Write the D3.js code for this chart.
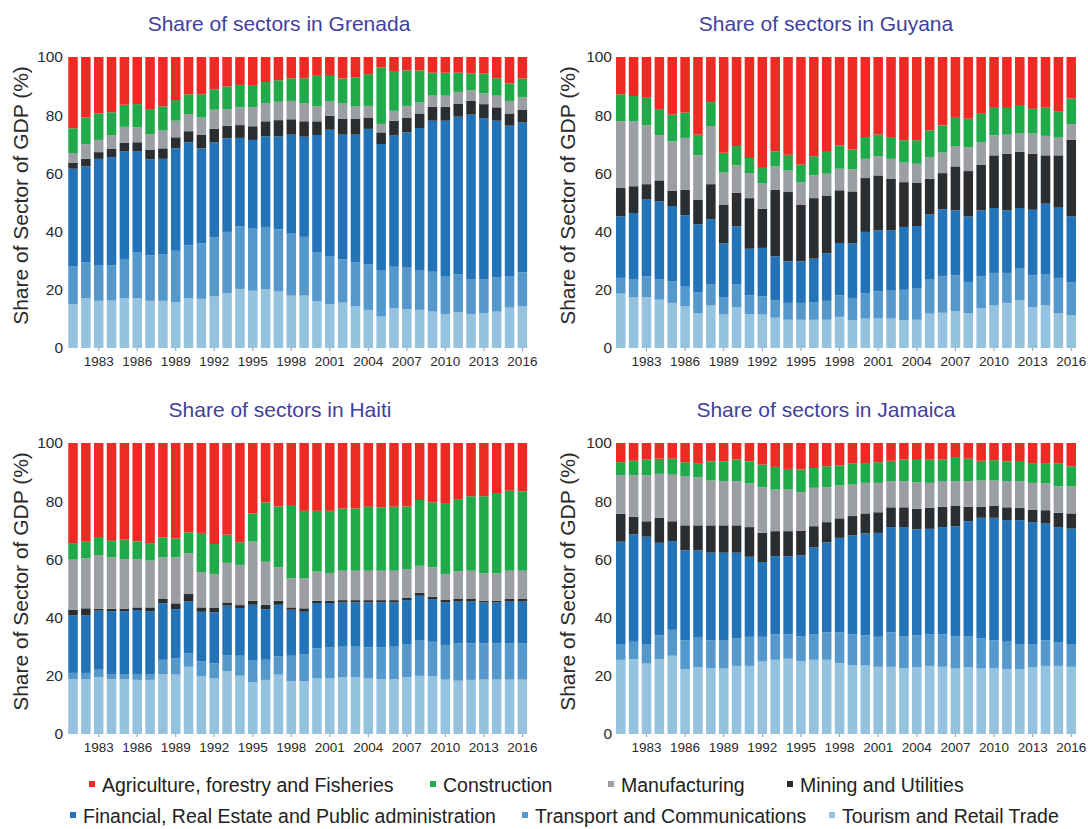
<!DOCTYPE html>
<html>
<head>
<meta charset="utf-8">
<script src="https://cdn.jsdelivr.net/npm/d3@7"></script>
<style>
  html, body { margin: 0; padding: 0; background: #ffffff; }
  svg { display: block; }
  text { font-family: "Liberation Sans", Arial, Helvetica, sans-serif; }
</style>
</head>
<body>
<svg id="chart" width="1088" height="829"></svg>
<script>
// ---------------- DATA ----------------
const years = d3.range(1981, 2017);
const tickYears = [1983, 1986, 1989, 1992, 1995, 1998, 2001, 2004, 2007, 2010, 2013, 2016];
const yTicks = [0, 20, 40, 60, 80, 100];

const sectorKeys = ["tour", "trans", "fin", "min", "man", "con", "agr"];
const sectorNames = {
  agr: "Agriculture, forestry and Fisheries",
  con: "Construction",
  man: "Manufacturing",
  min: "Mining and Utilities",
  fin: "Financial, Real Estate and Public administration",
  trans: "Transport and Communications",
  tour: "Tourism and Retail Trade"
};
const sectorColors = {
  agr: "#ee2a24", con: "#20aa4a", man: "#9b9ea2", min: "#2b2e31",
  fin: "#2373b9", trans: "#5598cc", tour: "#95c2df"
};

// Grenada
const grenadaTourism = [15,17.1,16.2,16.3,17.1,17.1,16.2,16.2,15.7,17.1,16.9,17.7,18.8,20.3,19.7,20.2,19.4,18,18,16,15.1,15.6,14.3,13.1,10.8,13.7,13.3,13.1,12.5,11.7,12.3,11.7,12,12.5,13.9,14.3];
const grenadaTransport = [13,12.3,12.3,12.2,13.5,15.7,15.7,16,17.7,18.2,19,20.3,21.1,21.5,21.3,21.4,21.4,21.3,20.2,16.8,16.3,14.8,15.1,15.7,16,14.2,14.3,13.7,13.7,12.8,13,12,11.7,11.7,10.8,11.7];
const grenadaFinancial = [33.6,33,36.5,37.1,36.9,34.7,32.9,32.8,35.2,35.4,32.7,32.7,32.2,30.4,30.5,31.1,31.9,34,34.4,40.4,43.6,42.9,43.9,46.5,43.3,45.1,46.5,48.8,51.9,53.6,54.2,56.5,55.3,53.9,51.7,51.5];
const grenadaMining = [2,2.6,2.3,2.8,3,3.2,3.4,3.6,3.8,3.8,4.6,4.6,4.3,4.4,4.7,5.2,5.6,5.3,5.3,4.7,4.8,5.4,5.4,3.9,4,5.1,5.1,5,4.8,4.8,4.5,4.7,4.8,4.6,4.2,4.3];
const grenadaManufacturing = [3.4,5,4.2,4.6,5.5,5.1,5.3,6.1,5.7,5.9,6,6.6,5.7,6.1,6.5,6.3,6.3,6.3,6.1,5.1,4.9,5.3,4.3,4,2.9,3.4,4,3.8,3.8,3.8,4,3.7,3.7,4,4.3,4.3];
const grenadaConstruction = [8.5,9.2,9.1,8,7.6,8,8.6,8.3,7.1,6.8,8,7,7.8,7.7,7.4,7.2,7.4,7.8,8.7,10.8,8.8,8.6,9.9,10.9,19.4,13.7,12.2,11,7.9,7.9,6.6,5.7,6.8,6,6,6.5];
const grenadaAgriculture = [24.5,20.8,19.4,19,16.4,16.2,17.9,17,14.8,12.8,12.8,11.1,10.1,9.6,9.9,8.6,8,7.3,7.3,6.2,6.5,7.4,7.1,5.9,3.6,4.8,4.6,4.6,5.4,5.4,5.4,5.7,5.7,7.3,9.1,7.4];

// Guyana
const guyanaTourism = [18.7,17.5,17.5,16.6,15.5,14.3,12,14.6,11.5,14.1,11.6,11.5,10.4,9.7,9.7,9.7,9.7,10.7,9.5,10.1,10.1,10.1,9.5,9.7,11.8,12.1,12.7,12,13.7,14.6,15.5,16.4,14.1,14.6,12,11.2];
const guyanaTransport = [5.4,6,7.1,6.9,7.5,7,7.2,7.2,6,7.8,6.5,6.3,6,5.8,5.8,6.1,6.5,7.4,7.7,8.6,9.4,9.6,10.5,10.9,11.7,12.5,12.3,10.7,10.9,11.2,10.3,10.9,10.9,10.6,12.1,11.3];
const guyanaFinancial = [21.1,22.9,26.4,26.9,25.8,24.3,23.3,22.4,18.4,19.9,16,16.6,15.1,14.3,14.3,14.9,16.4,18,18.7,21.2,20.9,20.8,21.6,21.3,22.4,23.1,22.3,22.5,22.7,22.3,21.5,20.8,22.5,24.4,24.1,22.7];
const guyanaMining = [9.8,9.2,5.3,7.2,5.3,8.8,8.5,12.1,13.4,11.6,17.4,13.5,22.9,23.8,19.5,20.8,19.8,18.1,17.9,18.5,18.9,17.7,15.4,14.8,12.3,12.4,15.1,15.6,15.7,18.1,19.5,19.3,19.3,16.6,18,26.4];
const guyanaManufacturing = [22.9,22.3,20.2,15.5,16.9,17.8,15.2,20,11,9.4,8.6,8.6,8,7.4,7.7,7.8,7.5,7.4,7.6,6.6,6.6,6.8,6.7,6.6,7.4,7.1,7,8.2,7.8,6.9,6.5,6.3,6.9,6.7,6.1,5.3];
const guyanaConstruction = [9.3,8.7,9.5,9,9.2,8.7,7.1,8.2,6.8,6.6,5.2,5.4,5.2,5.4,6,6.6,7.5,8,6.8,7.5,7.4,7.5,7.7,8.1,9.2,9.3,10,9.8,9.7,9.7,9.2,9.5,8.5,9.7,9.1,8.8];
const guyanaAgriculture = [12.8,13.4,14,17.9,19.8,19.1,26.7,15.5,32.9,30.6,34.7,38.1,32.4,33.6,37,34.1,32.6,30.4,31.8,27.5,26.7,27.5,28.6,28.6,25.2,23.5,20.6,21.2,19.5,17.2,17.5,16.8,17.8,17.4,18.6,14.3];

// Haiti
const haitiTourism = [18.9,18.9,19.5,18.9,18.9,18.6,18.6,20.6,20.4,23.1,19.8,19.1,21.5,20,17.8,18.6,20.4,18.1,18.1,19.1,19.1,19.5,19.5,19.1,18.9,18.9,19.5,20,19.8,18.7,18.3,18.6,18.7,18.7,18.7,18.7];
const haitiTransport = [2.1,2.1,2.6,1.5,1.5,1.8,1.8,4.9,5.6,4.6,5.1,5.2,5.6,6.9,7.4,6.9,6.3,8.8,9.2,10.3,10.6,10.5,10.5,10.7,10.9,11.1,11.4,12.3,11.9,11.9,12.9,12.6,12.5,12.5,12.5,12.5];
const haitiFinancial = [19.7,19.7,20.3,21.8,21.8,22.2,21.8,19.4,16.9,17.8,17.1,17.5,17,16.4,19.2,17.4,17.7,15.8,14.7,15.6,15.3,15.2,15.2,15.4,15.4,15.2,15.1,15.2,14.5,14.6,14.3,14.3,14,14,14.3,14.3];
const haitiMining = [2,2.5,0.6,0.8,0.8,0.9,1.3,1.5,2,2.6,1.5,1.5,1.1,1,1.4,1.5,1.4,0.8,1.2,0.8,0.8,0.8,0.8,0.8,0.8,0.8,0.9,1,1,1,0.9,0.9,0.6,0.6,0.9,0.9];
const haitiManufacturing = [17.2,17.2,18.5,17.7,17.1,16.6,16.1,14.3,15.8,14,12.1,11.7,13.6,13.8,20.3,14.8,11.5,10,10.3,10,9.5,10.1,10.1,10.1,10.1,10.1,9.8,9.3,10.1,8.8,9.5,9.7,9.4,9.4,9.7,9.7];
const haitiConstruction = [5.7,5.7,5.9,5.7,6.7,6.1,6,6.9,6.5,7.2,13.5,10.3,9.7,7.8,9.7,20.4,20.9,25.2,23.2,20.9,21.4,21.4,21.4,22,21.8,22,21.5,22.6,22.3,24.1,24.6,25.6,26.5,27.6,27.5,27.3];
const haitiAgriculture = [34.4,33.9,32.6,33.6,33.2,33.8,34.4,32.4,32.8,30.7,30.9,34.7,31.5,34.1,24.2,20.4,21.8,21.3,23.3,23.3,23.3,22.5,22.5,21.9,22.1,21.9,21.8,19.6,20.4,20.9,19.5,18.3,18.3,17.2,16.4,16.6];

// Jamaica
const jamaicaTourism = [25.5,25.7,24.2,25.7,26.9,22.3,22.9,22.5,22.5,23.4,23.4,24.9,25.5,25.9,25.1,25.5,25.5,24.3,23.7,23.7,23.1,23.1,22.5,22.9,23.4,23.1,22.5,22.9,22.5,22.5,22.3,22.3,22.9,23.4,23.4,23.1];
const jamaicaTransport = [5.4,6,6.7,8.2,8.9,9.9,10.2,9.7,9.8,9.4,10,8.5,8.8,8.4,8.4,8.8,9.4,10.6,10.6,10.2,10.3,11.8,11,11,10.9,11.2,11,10.6,10.4,9.7,9.4,8.6,8,8.8,8,7.8];
const jamaicaFinancial = [35.2,36.9,36.9,31.8,30.5,30.9,30,30.1,30,29.5,27.5,25.7,26.8,26.8,27.9,29.9,31,32.5,33.9,35,35.7,36.2,37.6,36.4,36.2,36.8,37.9,39.6,41.4,42.1,41.8,42.6,41.9,40.1,39.7,39.7];
const jamaicaMining = [9.6,6,5.3,8.6,6.8,8.6,8.6,9.4,9.4,9.4,10.2,10,8.6,8.6,8.5,7.2,6.9,6.7,6.7,6.9,7.1,6.8,6.8,7.1,7.2,7,7.1,5,3.8,4.2,4.4,4.2,4.3,4.6,4.9,5.2];
const jamaicaManufacturing = [13.2,14.3,15.8,15.1,16,16.9,16.5,15.4,15.2,15.2,15,15.7,14.3,14.3,13.2,13.2,12,11.3,10.8,10.5,10.1,9,9,9.1,8.6,8.8,8.4,8.8,9,8.6,9,9.2,9.2,9.2,9.1,9.3];
const jamaicaConstruction = [4.5,5,5.4,5.2,5.5,4.8,4.9,6.6,6.8,7.4,7.6,7.8,7.8,7.1,7.8,6.8,7.2,6.9,7.2,6.8,7.1,7,7.4,8,8,7.4,8,7.7,6.8,7,6.8,6.6,6.8,7,7.8,6.9];
const jamaicaAgriculture = [6.6,6.1,5.7,5.4,5.4,6.6,6.9,6.3,6.3,5.7,6.3,7.4,8.2,8.9,9.1,8.6,8,7.7,7.1,6.9,6.6,6.1,5.7,5.5,5.7,5.7,5.1,5.4,6.1,5.9,6.3,6.5,6.9,6.9,7.1,8];

// ---------------- BUILD ----------------
function table(tour, trans, fin, min, man, con, agr) {
  return years.map((y, i) => ({ year: y, tour: tour[i], trans: trans[i], fin: fin[i], min: min[i], man: man[i], con: con[i], agr: agr[i] }));
}

const panels = [
  { title: "Share of sectors in Grenada", rows: table(grenadaTourism, grenadaTransport, grenadaFinancial, grenadaMining, grenadaManufacturing, grenadaConstruction, grenadaAgriculture),
    x0: 66.6, x1: 528.8, yTop: 57, yBot: 348, titleX: 279, titleY: 31, labelX: 28, yTickX: 63 },
  { title: "Share of sectors in Guyana", rows: table(guyanaTourism, guyanaTransport, guyanaFinancial, guyanaMining, guyanaManufacturing, guyanaConstruction, guyanaAgriculture),
    x0: 614.3, x1: 1077.7, yTop: 57, yBot: 348, titleX: 826, titleY: 31, labelX: 575, yTickX: 612 },
  { title: "Share of sectors in Haiti", rows: table(haitiTourism, haitiTransport, haitiFinancial, haitiMining, haitiManufacturing, haitiConstruction, haitiAgriculture),
    x0: 66.6, x1: 528.8, yTop: 443, yBot: 734, titleX: 280, titleY: 417, labelX: 28, yTickX: 63 },
  { title: "Share of sectors in Jamaica", rows: table(jamaicaTourism, jamaicaTransport, jamaicaFinancial, jamaicaMining, jamaicaManufacturing, jamaicaConstruction, jamaicaAgriculture),
    x0: 614.3, x1: 1077.7, yTop: 443, yBot: 734, titleX: 826, titleY: 417, labelX: 575, yTickX: 612 }
];

const svg = d3.select("#chart");
const stack = d3.stack().keys(sectorKeys);

panels.forEach(p => {
  const x = d3.scaleBand().domain(years).range([p.x0, p.x1]).paddingInner(0.26).paddingOuter(0.13);
  const y = d3.scaleLinear().domain([0, 100]).range([p.yBot, p.yTop]);
  const g = svg.append("g");

  const series = stack(p.rows);
  g.selectAll("g.layer").data(series).join("g")
    .attr("class", "layer")
    .attr("fill", d => sectorColors[d.key])
    .selectAll("rect").data(d => d).join("rect")
    .attr("x", d => x(d.data.year))
    .attr("width", x.bandwidth())
    .attr("y", d => y(Math.min(100, d[1])))
    .attr("height", d => Math.max(0, y(d[0]) - y(Math.min(100, d[1]))));

  // x axis
  const xa = g.append("g").attr("transform", `translate(0,${p.yBot})`)
    .call(d3.axisBottom(x).tickValues(tickYears).tickSize(3).tickPadding(5));
  xa.select(".domain").remove();
  xa.selectAll(".tick line").attr("stroke", "#9a9a9a");
  xa.selectAll(".tick text").attr("fill", "#2a2a2a").attr("font-size", "13.5px")
    .attr("font-family", "'Liberation Sans', Arial, sans-serif");

  // y axis
  const ya = g.append("g").attr("transform", `translate(${p.yTickX},0)`)
    .call(d3.axisLeft(y).tickValues(yTicks).tickSize(0).tickPadding(0));
  ya.select(".domain").remove();
  ya.selectAll(".tick text").attr("fill", "#2a2a2a").attr("font-size", "15.5px")
    .attr("font-family", "'Liberation Sans', Arial, sans-serif");

  // title
  g.append("text").attr("x", p.titleX).attr("y", p.titleY)
    .attr("text-anchor", "middle").attr("font-size", "21px").attr("fill", "#3f3f9e")
    .text(p.title);

  // y label
  g.append("text")
    .attr("transform", `translate(${p.labelX},${(p.yTop + p.yBot) / 2 - 7}) rotate(-90)`)
    .attr("text-anchor", "middle").attr("font-size", "21px").attr("fill", "#2a2a2a")
    .text("Share of Sector of GDP (%)");
});

// legend
const legendRows = [
  [{ k: "agr", x: 92 }, { k: "con", x: 433 }, { k: "man", x: 611 }, { k: "min", x: 790 }],
  [{ k: "fin", x: 73 }, { k: "trans", x: 525 }, { k: "tour", x: 832 }]
];
const legendY = [785, 816];
legendRows.forEach((row, ri) => {
  const lg = svg.append("g").attr("transform", `translate(0,${legendY[ri]})`);
  const items = lg.selectAll("g").data(row).join("g").attr("transform", d => `translate(${d.x},0)`);
  items.append("rect").attr("x", -3).attr("y", -4).attr("width", 6).attr("height", 6)
    .attr("fill", d => sectorColors[d.k]);
  items.append("text").attr("x", 10).attr("y", 6.5).attr("font-size", "19.5px").attr("fill", "#222")
    .text(d => sectorNames[d.k]);
});
</script>
</body>
</html>
